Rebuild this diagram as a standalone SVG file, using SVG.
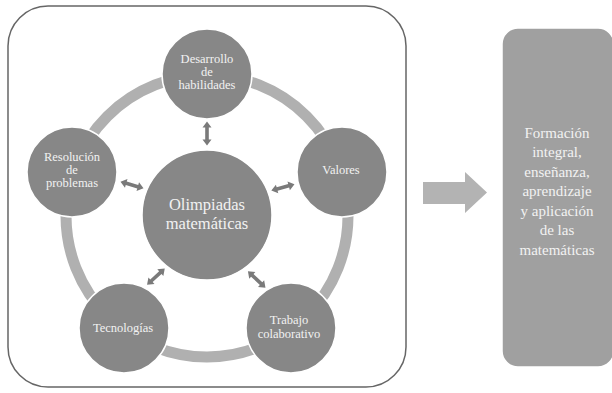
<svg xmlns="http://www.w3.org/2000/svg" xmlns:xlink="http://www.w3.org/1999/xlink" width="612" height="393" viewBox="0 0 612 393">
  <style>
    .node { fill: #878787; stroke: #ffffff; stroke-width: 1.5; }
    .ntext { font-family: "Liberation Serif", "Times New Roman", serif; font-size: 12.5px; fill: #f2f2f2; text-anchor: middle; }
    .ctext { font-family: "Liberation Serif", "Times New Roman", serif; font-size: 16.5px; fill: #f2f2f2; text-anchor: middle; }
    .btext { font-family: "Liberation Serif", "Times New Roman", serif; font-size: 15px; fill: #f2f2f2; text-anchor: middle; }
    .darrow { fill: #7a7a7a; }
  </style>
  <defs>
    <path id="dbl" d="M-12,0 L-6,-4.5 L-6,-1.8 L6,-1.8 L6,-4.5 L12,0 L6,4.5 L6,1.8 L-6,1.8 L-6,4.5 Z"/>
  </defs>
  <rect width="612" height="393" fill="#ffffff"/>
  <g id="frame">
    <rect x="8" y="6" width="398" height="381" rx="40" ry="40" fill="none" stroke="#666666" stroke-width="1.5"/>
  </g>
  <g id="ring">
    <circle cx="207" cy="216" r="141" fill="none" stroke="#b0b0b0" stroke-width="11"/>
  </g>
  <g id="connectors" class="darrow">
    <use xlink:href="#dbl" transform="translate(207,133.5) rotate(90)"/>
    <use xlink:href="#dbl" transform="translate(132,185) rotate(16.3)"/>
    <use xlink:href="#dbl" transform="translate(282.9,187.4) rotate(-15.4)"/>
    <use xlink:href="#dbl" transform="translate(155.9,276.7) rotate(-42.4)"/>
    <use xlink:href="#dbl" transform="translate(256.7,279.5) rotate(43)"/>
    <polygon points="423,182 465,182 465,172 487,192.5 465,213 465,204 423,204" fill="#b3b3b3"/>
  </g>
  <g id="center">
    <circle class="node" cx="207" cy="215" r="65"/>
    <text class="ctext" x="207" y="210">Olimpiadas</text>
    <text class="ctext" x="207" y="229">matemáticas</text>
  </g>
  <g id="desarrollo">
    <circle class="node" cx="207" cy="74" r="45"/>
    <text class="ntext" x="207" y="63">Desarrollo</text>
    <text class="ntext" x="207" y="76">de</text>
    <text class="ntext" x="207" y="89">habilidades</text>
  </g>
  <g id="valores">
    <circle class="node" cx="342" cy="172" r="45"/>
    <text class="ntext" x="341" y="174">Valores</text>
  </g>
  <g id="trabajo">
    <circle class="node" cx="291" cy="328" r="45"/>
    <text class="ntext" x="289" y="324">Trabajo</text>
    <text class="ntext" x="289" y="337.5">colaborativo</text>
  </g>
  <g id="tecnologias">
    <circle class="node" cx="124" cy="328" r="45"/>
    <text class="ntext" x="123" y="332">Tecnologías</text>
  </g>
  <g id="resolucion">
    <circle class="node" cx="72" cy="172" r="45"/>
    <text class="ntext" x="72" y="161">Resolución</text>
    <text class="ntext" x="72" y="174">de</text>
    <text class="ntext" x="72" y="187">problemas</text>
  </g>
  <g id="resultado">
    <rect x="502" y="28" width="112" height="339" rx="16" ry="16" fill="#a0a0a0" stroke="#ffffff" stroke-width="1.5"/>
    <text class="btext" x="557" y="137.5">Formación</text>
    <text class="btext" x="557" y="157">integral,</text>
    <text class="btext" x="557" y="176.5">enseñanza,</text>
    <text class="btext" x="557" y="196">aprendizaje</text>
    <text class="btext" x="557" y="215.5">y aplicación</text>
    <text class="btext" x="557" y="235">de las</text>
    <text class="btext" x="557" y="254.5">matemáticas</text>
  </g>
</svg>
